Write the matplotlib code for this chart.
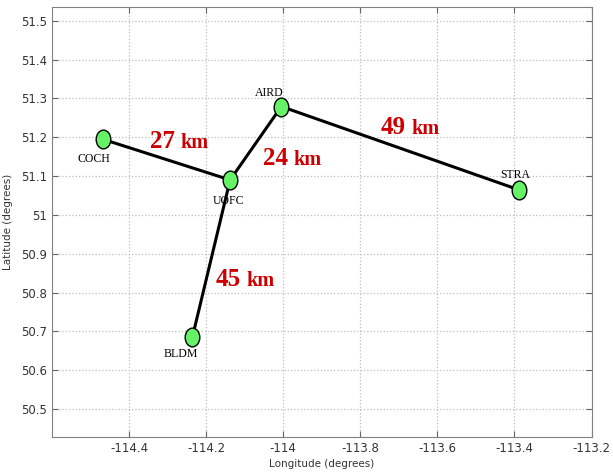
import matplotlib.pyplot as plt
from matplotlib.path import Path
from matplotlib.transforms import Affine2D

stations = ["COCH", "UOFC", "AIRD", "STRA", "BLDM"]
lons = [-114.469, -114.138, -114.005, -113.387, -114.236]
lats = [51.195, 51.090, 51.279, 51.064, 50.685]

links = [("COCH", "UOFC"), ("UOFC", "AIRD"), ("AIRD", "STRA"), ("UOFC", "BLDM")]
dist_km = [27, 24, 49, 45]

x_ticks = [-114.4, -114.2, -114.0, -113.8, -113.6, -113.4, -113.2]
x_labels = ["-114.4", "-114.2", "-114", "-113.8", "-113.6", "-113.4", "-113.2"]
y_ticks = [50.5, 50.6, 50.7, 50.8, 50.9, 51.0, 51.1, 51.2, 51.3, 51.4, 51.5]
y_labels = ["50.5", "50.6", "50.7", "50.8", "50.9", "51", "51.1", "51.2", "51.3", "51.4", "51.5"]

# label offsets (points) for station names and link distances
name_off = {"COCH": (-6, -14), "UOFC": (-1, -15), "AIRD": (-9, 10),
            "STRA": (-3, 11), "BLDM": (-8, -12)}
dist_off = [(7, 8), (24, -16), (5, 10), (22, -20)]

pos = {s: (x, y) for s, x, y in zip(stations, lons, lats)}

fig = plt.figure(figsize=(6.13, 4.73), dpi=100)
ax = fig.add_axes([0.085, 0.076, 0.88, 0.909])

for (a, b), d, off in zip(links, dist_km, dist_off):
    xa, ya = pos[a]
    xb, yb = pos[b]
    ax.plot([xa, xb], [ya, yb], color="black", lw=2.2, zorder=2)
    mx, my = (xa + xb) / 2, (ya + yb) / 2
    ax.annotate(str(d), (mx, my), xytext=(off[0] - 1, off[1]), textcoords="offset points",
                ha="right", va="baseline", color="#cc0000", fontsize=18,
                fontweight="bold", family="Liberation Serif")
    ax.annotate("km", (mx, my), xytext=(off[0] + 3, off[1]), textcoords="offset points",
                ha="left", va="baseline", color="#cc0000", fontsize=14.5,
                fontweight="bold", family="Liberation Serif")

ellipse = Path.unit_circle().transformed(Affine2D().scale(0.78, 1.0))
ax.plot(lons, lats, ls="none", marker=ellipse, markersize=13.5,
        markerfacecolor="#66f266", markeredgecolor="black", markeredgewidth=1, zorder=3)

for s in stations:
    ax.annotate(s, pos[s], xytext=name_off[s], textcoords="offset points",
                ha="center", va="center", fontsize=8.5, family="Liberation Serif",
                color="black")

ax.set_xlim(-114.6, -113.2)
ax.set_ylim(50.428, 51.535)
ax.set_xticks(x_ticks)
ax.set_xticklabels(x_labels)
ax.set_yticks(y_ticks)
ax.set_yticklabels(y_labels)
ax.grid(True, ls=":", color="#bdbdbd", lw=0.9)
ax.tick_params(direction="in", top=True, right=True, labelsize=8.5,
               labelcolor="#333333", color="#666666", length=4)
for sp in ax.spines.values():
    sp.set_color("#808080")
ax.set_xlabel("Longitude (degrees)", fontsize=7.5, color="#333333", labelpad=3)
ax.set_ylabel("Latitude (degrees)", fontsize=7.5, color="#333333", labelpad=6)

plt.savefig("out.png", dpi=100)
